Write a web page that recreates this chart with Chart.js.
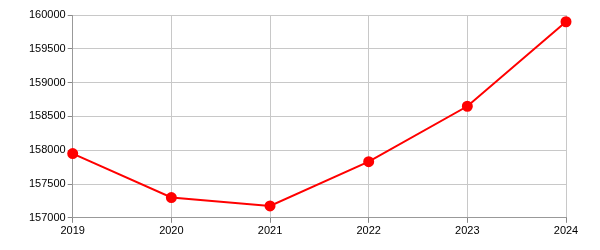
<!DOCTYPE html>
<html>
<head>
<meta charset="utf-8">
<script src="https://cdn.jsdelivr.net/npm/chart.js@4"></script>
<style>
  html, body { margin: 0; padding: 0; background: #fff; }
  #wrap { width: 600px; height: 250px; }
</style>
</head>
<body>
<div id="wrap"><canvas id="popChart"></canvas></div>
<script>
var years = ['2019', '2020', '2021', '2022', '2023', '2024'];
var population = [157950, 157300, 157175, 157830, 158650, 159900];
var y_min = 157000;
var y_max = 160000;
var y_step = 500;

var ctx = document.getElementById("popChart");

var popChart = new Chart(ctx, {
    type: 'line',
    data: {
        labels: years,
        datasets: [{
            data: population,
            borderColor: '#ff0000',
            backgroundColor: '#ff0000',
            borderWidth: 2,
            pointRadius: 4.5,
            pointHoverRadius: 4.5,
            tension: 0,
            fill: false,
        }]
    },
    options: {
        responsive: true,
        maintainAspectRatio: false,
        animation: false,
        layout: {
            padding: { left: 27, right: 34, top: 15, bottom: 10 }
        },
        plugins: {
            legend: { display: false },
            tooltip: { enabled: false },
        },
        scales: {
            x: {
                offset: false,
                grid: {
                    color: '#c8c8c8',
                    tickColor: '#888',
                    tickLength: 5,
                },
                border: { color: '#999' },
                ticks: {
                    color: '#000',
                    padding: 2,
                    maxRotation: 0,
                    font: { family: 'Liberation Sans, Arial', size: 11 },
                },
            },
            y: {
                min: y_min,
                max: y_max,
                grid: {
                    color: '#c8c8c8',
                    tickColor: '#888',
                    tickLength: 5,
                },
                border: { color: '#999' },
                ticks: {
                    stepSize: y_step,
                    color: '#000',
                    padding: 2,
                    font: { family: 'Liberation Sans, Arial', size: 11 },
                    callback: function (v) { return String(v); },
                },
            }
        }
    }
});
</script>
</body>
</html>
